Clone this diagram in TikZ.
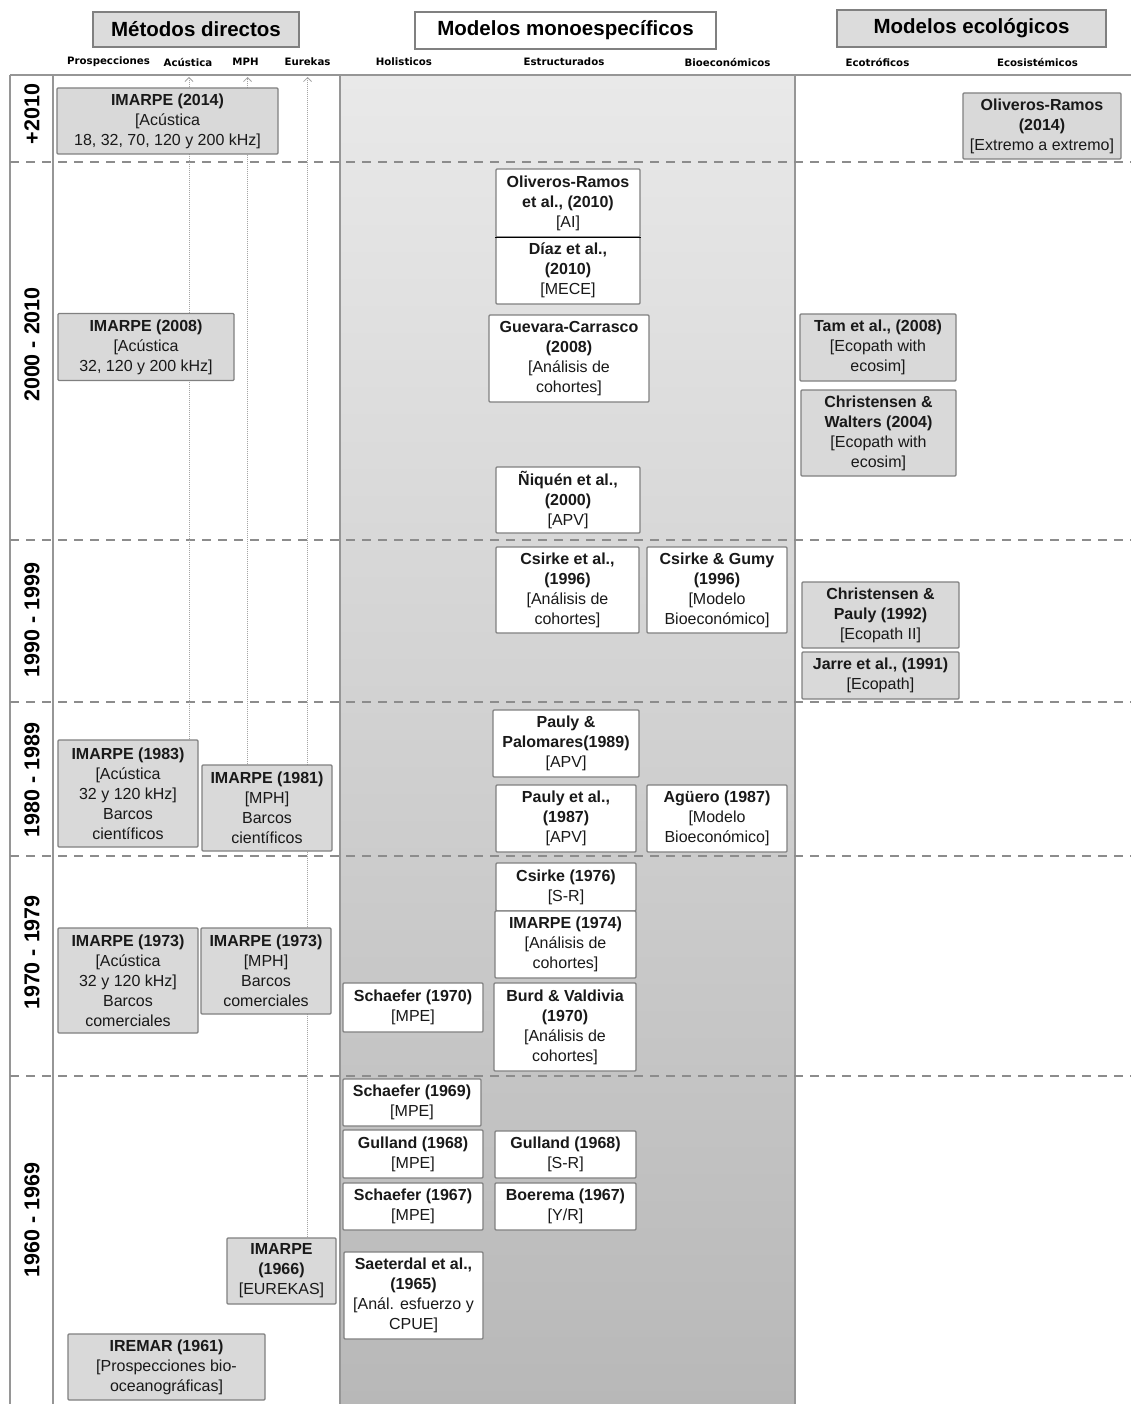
\documentclass[tikz,border=0pt]{standalone}
\usepackage{fontspec}
\setmainfont{Liberation Sans}
\newfontfamily\subfont{DejaVu Sans}
\usetikzlibrary{arrows.meta}
\definecolor{boxgray}{RGB}{217,217,217}
\definecolor{hdrgray}{RGB}{220,220,220}
\definecolor{edgegray}{RGB}{128,128,128}
\definecolor{framegray}{RGB}{150,150,150}
\definecolor{dashgray}{RGB}{140,140,140}
\definecolor{dotgray}{RGB}{165,165,165}
\definecolor{paneltop}{RGB}{233,233,233}
\definecolor{panelbot}{RGB}{184,184,184}
\pgfdeclarelayer{bg}
\pgfdeclarelayer{mid}
\pgfsetlayers{bg,mid,main}
\begin{document}
\begin{tikzpicture}[x=1pt,y=-1pt,
  box/.style={draw=edgegray, line width=1.2pt, rounded corners=1pt, align=center,
    inner sep=0pt, font=\fontsize{16}{20}\selectfont, text=black!90},
  gbox/.style={box, fill=boxgray},
  wbox/.style={box, fill=white},
  hdr/.style={draw=edgegray, line width=1.3pt, inner sep=0pt,
    font=\fontsize{20.5}{24}\selectfont\bfseries},
  subhdr/.style={inner sep=0pt, font=\subfont\bfseries\fontsize{10.2}{12}\selectfont},
  yearlbl/.style={inner sep=0pt, rotate=90, font=\fontsize{21.5}{24}\selectfont\bfseries},
  frameline/.style={draw=framegray, line width=1.5pt},
  panelline/.style={draw=framegray, line width=2pt},
  dashline/.style={draw=dashgray, line width=1.8pt, dash pattern=on 9pt off 7pt},
  dotline/.style={draw=dotgray, line width=0.8pt, dash pattern=on 1pt off 1pt,
    -{Straight Barb[length=4pt,width=8pt,line width=0.8pt]}}
]
\useasboundingbox (0,0) rectangle (1131,1404);

% ---------- background layout ----------
\begin{pgfonlayer}{bg}
  \shade[top color=paneltop, bottom color=panelbot] (340,75) rectangle (795,1404);
  \draw[panelline] (340,75) -- (340,1404);
  \draw[panelline] (795,75) -- (795,1404);
  \draw[frameline] (10,75) -- (1131,75);
  \draw[frameline] (10,75) -- (10,1404);
  \draw[frameline] (53,75) -- (53,1404);
  \draw[dashline] (10,162) -- (1131,162);
  \draw[dashline] (10,540) -- (1131,540);
  \draw[dashline] (10,702) -- (1131,702);
  \draw[dashline] (10,856) -- (1131,856);
  \draw[dashline] (10,1076) -- (1131,1076);
\end{pgfonlayer}

% ---------- headers ----------
\node[hdr, fill=hdrgray, minimum width=206pt, minimum height=35pt] (hMet) at (196,29.5) {Métodos directos};
\node[hdr, fill=white, minimum width=301pt, minimum height=37pt] (hMon) at (565.5,30.5) {Modelos monoespecíficos};
\node[hdr, fill=hdrgray, minimum width=269pt, minimum height=37pt] (hEco) at (971.5,28.5) {Modelos ecológicos};

\node[subhdr] (sPro) at (108.5,62) {Prospecciones};
\node[subhdr] (sAcu) at (188,62) {Acústica};
\node[subhdr] (sMph) at (245.5,62) {MPH};
\node[subhdr] (sEur) at (307.5,62) {Eurekas};
\node[subhdr] (sHol) at (404,62) {Holisticos};
\node[subhdr] (sEst) at (564,62) {Estructurados};
\node[subhdr] (sBio) at (727.5,62) {Bioeconómicos};
\node[subhdr] (sEtr) at (877.5,62) {Ecotróficos};
\node[subhdr] (sEcs) at (1037.5,62) {Ecosistémicos};

% ---------- year labels ----------
\node[yearlbl] (y10) at (32,114) {+2010};
\node[yearlbl] (y00) at (32,344.5) {2000 - 2010};
\node[yearlbl] (y90) at (32,620) {1990 - 1999};
\node[yearlbl] (y80) at (32,780) {1980 - 1989};
\node[yearlbl] (y70) at (32,952.5) {1970 - 1979};
\node[yearlbl] (y60) at (32,1220) {1960 - 1969};

% ---------- métodos directos ----------
\node[gbox, minimum width=221pt, minimum height=66pt] (i2014) at (167.5,121)
  {\textbf{IMARPE (2014)}\\{[}Acústica\\18, 32, 70, 120 y 200 kHz{]}};
\node[gbox, minimum width=176pt, minimum height=67pt] (i2008) at (146,347)
  {\textbf{IMARPE (2008)}\\{[}Acústica\\32, 120 y 200 kHz{]}};
\node[gbox, minimum width=140pt, minimum height=107pt] (i1983) at (128,793.5)
  {\textbf{IMARPE (1983)}\\{[}Acústica\\32 y 120 kHz{]}\\Barcos\\científicos};
\node[gbox, minimum width=130pt, minimum height=86pt] (i1981) at (267,808)
  {\textbf{IMARPE (1981)}\\{[}MPH{]}\\Barcos\\científicos};
\node[gbox, minimum width=140pt, minimum height=105pt] (i1973a) at (128,980.5)
  {\textbf{IMARPE (1973)}\\{[}Acústica\\32 y 120 kHz{]}\\Barcos\\comerciales};
\node[gbox, minimum width=130pt, minimum height=86pt] (i1973b) at (266,971)
  {\textbf{IMARPE (1973)}\\{[}MPH{]}\\Barcos\\comerciales};
\node[gbox, minimum width=109pt, minimum height=66pt] (i1966) at (281.5,1271)
  {\textbf{IMARPE}\\\textbf{(1966)}\\{[}EUREKAS{]}};
\node[gbox, minimum width=197pt, minimum height=66pt] (ir1961) at (166.5,1367)
  {\textbf{IREMAR (1961)}\\{[}Prospecciones bio-\\oceanográficas{]}};

% ---------- modelos monoespecíficos ----------
\node[wbox, minimum width=144pt, minimum height=68pt] (oli2010) at (568,203)
  {\textbf{Oliveros-Ramos}\\\textbf{et al., (2010)}\\{[}AI{]}};
\node[wbox, minimum width=144pt, minimum height=67pt] (diaz) at (568,270.5)
  {\textbf{Díaz et al.,}\\\textbf{(2010)}\\{[}MECE{]}};
\draw[black, line width=1.3pt] (oli2010.south west) -- (oli2010.south east);
\node[wbox, minimum width=160pt, minimum height=87pt] (guev) at (569,358.5)
  {\textbf{Guevara-Carrasco}\\\textbf{(2008)}\\{[}Análisis de\\cohortes{]}};
\node[wbox, minimum width=144pt, minimum height=66pt] (niq) at (568,500)
  {\textbf{Ñiquén et al.,}\\\textbf{(2000)}\\{[}APV{]}};
\node[wbox, minimum width=143pt, minimum height=86pt] (csa) at (567.5,590)
  {\textbf{Csirke et al.,}\\\textbf{(1996)}\\{[}Análisis de\\cohortes{]}};
\node[wbox, minimum width=140pt, minimum height=86pt] (csg) at (717,590)
  {\textbf{Csirke \& Gumy}\\\textbf{(1996)}\\{[}Modelo\\Bioeconómico{]}};
\node[wbox, minimum width=146pt, minimum height=67pt] (ppal) at (566,743.5)
  {\textbf{Pauly \&}\\\textbf{Palomares(1989)}\\{[}APV{]}};
\node[wbox, minimum width=140pt, minimum height=67pt] (paul87) at (566,818.5)
  {\textbf{Pauly et al.,}\\\textbf{(1987)}\\{[}APV{]}};
\node[wbox, minimum width=140pt, minimum height=67pt] (ague) at (717,818.5)
  {\textbf{Agüero (1987)}\\{[}Modelo\\Bioeconómico{]}};
\node[wbox, minimum width=140pt, minimum height=48pt] (cs76) at (566,887)
  {\textbf{Csirke (1976)}\\{[}S-R{]}};
\node[wbox, minimum width=141pt, minimum height=67pt] (im74) at (565.5,944.5)
  {\textbf{IMARPE (1974)}\\{[}Análisis de\\cohortes{]}};
\node[wbox, minimum width=142pt, minimum height=88pt] (burd) at (565,1027)
  {\textbf{Burd \& Valdivia}\\\textbf{(1970)}\\{[}Análisis de\\cohortes{]}};
\node[wbox, minimum width=140pt, minimum height=49pt] (sch70) at (413,1007.5)
  {\textbf{Schaefer (1970)}\\{[}MPE{]}};
\node[wbox, minimum width=138pt, minimum height=47pt] (sch69) at (412,1102.5)
  {\textbf{Schaefer (1969)}\\{[}MPE{]}};
\node[wbox, minimum width=140pt, minimum height=48pt] (gulm) at (413,1154)
  {\textbf{Gulland (1968)}\\{[}MPE{]}};
\node[wbox, minimum width=141pt, minimum height=47pt] (guls) at (565.5,1154.5)
  {\textbf{Gulland (1968)}\\{[}S-R{]}};
\node[wbox, minimum width=140pt, minimum height=47pt] (sch67) at (413,1206.5)
  {\textbf{Schaefer (1967)}\\{[}MPE{]}};
\node[wbox, minimum width=141pt, minimum height=47pt] (boer) at (565.5,1206.5)
  {\textbf{Boerema (1967)}\\{[}Y/R{]}};
\node[wbox, minimum width=139pt, minimum height=87pt] (saet) at (413.5,1295.5)
  {\textbf{Saeterdal et al.,}\\\textbf{(1965)}\\{[}Anál. esfuerzo y\\CPUE{]}};

% ---------- modelos ecológicos ----------
\node[gbox, minimum width=158pt, minimum height=66pt] (oli14) at (1042,126)
  {\textbf{Oliveros-Ramos}\\\textbf{(2014)}\\{[}Extremo a extremo{]}};
\node[gbox, minimum width=156pt, minimum height=67pt] (tam) at (878,347.5)
  {\textbf{Tam et al., (2008)}\\{[}Ecopath with\\ecosim{]}};
\node[gbox, minimum width=155pt, minimum height=86pt] (cw) at (878.5,433)
  {\textbf{Christensen \&}\\\textbf{Walters (2004)}\\{[}Ecopath with\\ecosim{]}};
\node[gbox, minimum width=157pt, minimum height=66pt] (cp) at (880.5,615)
  {\textbf{Christensen \&}\\\textbf{Pauly (1992)}\\{[}Ecopath II{]}};
\node[gbox, minimum width=157pt, minimum height=47pt] (jar) at (880.5,675.5)
  {\textbf{Jarre et al., (1991)}\\{[}Ecopath{]}};

% ---------- dotted guide lines with arrows ----------
\coordinate (acTop) at (189,77);
\coordinate (mphTop) at (247.5,77);
\coordinate (eurTop) at (307.5,77);
\begin{pgfonlayer}{mid}
  \draw[dotline] (i1983.north -| acTop) -- (acTop);
  \draw[dotline] (i1981.north -| mphTop) -- (mphTop);
  \draw[dotline] (i1966.north -| eurTop) -- (eurTop);
\end{pgfonlayer}
\end{tikzpicture}
\end{document}
